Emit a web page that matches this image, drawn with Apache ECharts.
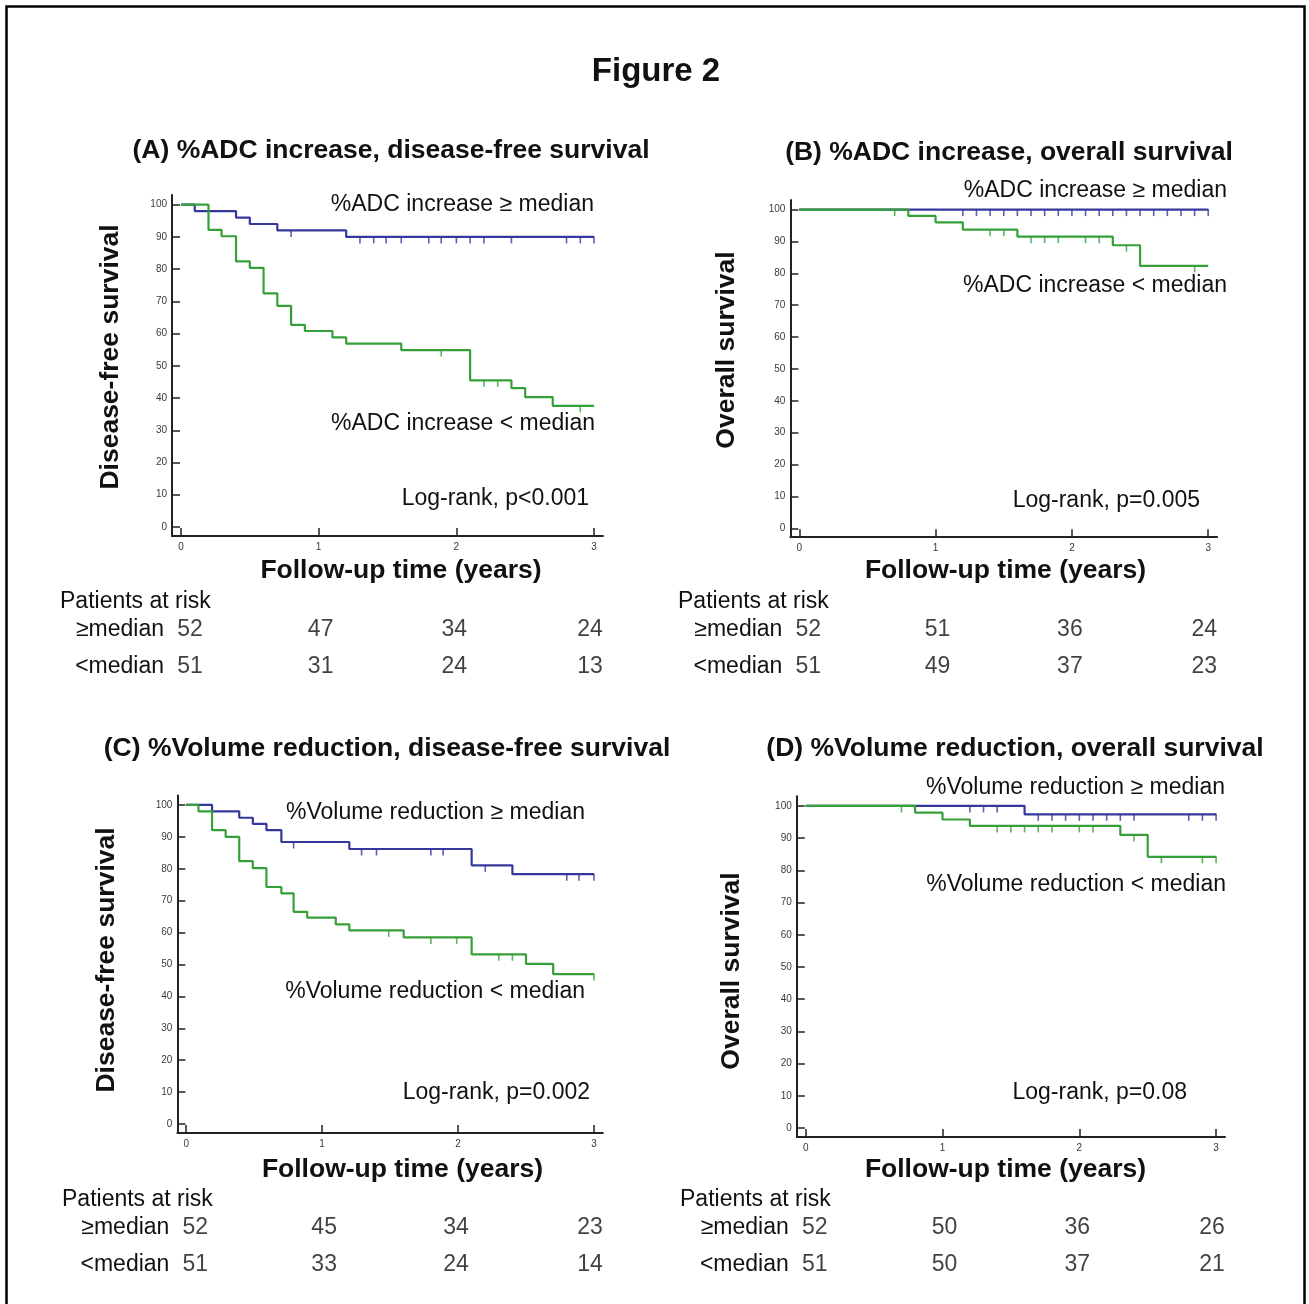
<!DOCTYPE html>
<html>
<head>
<meta charset="utf-8">
<script src="https://cdn.jsdelivr.net/npm/echarts@6/dist/echarts.min.js"></script>
<style>
html,body{margin:0;padding:0;background:#fff;}
#c{width:1309px;height:1304px;}
</style>
</head>
<body>
<div id="c"></div>
<script>
// ---------- DATA ----------
const yTicks = [0, 10, 20, 30, 40, 50, 60, 70, 80, 90, 100];
const xTicks = [0, 1, 2, 3];
const riskTimes = [0, 1, 2, 3];
const rowNames = ['≥median', '<median'];

// Panel A: %ADC increase, disease-free survival
const timesA_hi = [0, 0.10, 0.40, 0.50, 0.70, 1.20, 3.00];
const survA_hi  = [100, 98, 96, 94, 92, 90, 90];
const censorA_hi = [0.80, 1.30, 1.40, 1.49, 1.60, 1.80, 1.89, 2.00, 2.10, 2.20, 2.40, 2.80, 2.90, 3.00];
const timesA_lo = [0, 0.20, 0.295, 0.40, 0.50, 0.60, 0.70, 0.80, 0.90, 1.10, 1.20, 1.60, 2.10, 2.40, 2.50, 2.70, 3.00];
const survA_lo  = [100, 92.2, 90.2, 82.4, 80.4, 72.5, 68.6, 62.7, 60.8, 58.8, 56.9, 54.9, 45.5, 43.1, 40.3, 37.6, 37.6];
const censorA_lo = [1.89, 2.20, 2.30, 2.90];
const riskA_hi = [52, 47, 34, 24];
const riskA_lo = [51, 31, 24, 13];

// Panel B: %ADC increase, overall survival
const timesB_hi = [0, 3.00];
const survB_hi  = [100, 100];
const censorB_hi = [1.20, 1.30, 1.40, 1.50, 1.60, 1.70, 1.80, 1.90, 2.00, 2.10, 2.20, 2.30, 2.40, 2.50, 2.60, 2.70, 2.80, 2.90, 3.00];
const timesB_lo = [0, 0.80, 1.00, 1.20, 1.60, 2.30, 2.50, 3.00];
const survB_lo  = [100, 98.0, 96.0, 93.7, 91.5, 88.8, 82.3, 82.3];
const censorB_lo = [0.70, 1.40, 1.50, 1.70, 1.80, 1.90, 2.10, 2.20, 2.40, 2.90];
const riskB_hi = [52, 51, 36, 24];
const riskB_lo = [51, 49, 37, 23];

// Panel C: %Volume reduction, disease-free survival
const timesC_hi = [0, 0.19, 0.39, 0.49, 0.59, 0.70, 1.20, 2.10, 2.40, 3.00];
const survC_hi  = [100, 98, 96, 94.1, 92.1, 88.4, 86.2, 81.1, 78.3, 78.3];
const censorC_hi = [0.79, 1.29, 1.40, 1.80, 1.89, 2.20, 2.80, 2.89, 3.00];
const timesC_lo = [0, 0.09, 0.19, 0.29, 0.39, 0.49, 0.59, 0.70, 0.79, 0.89, 1.10, 1.20, 1.60, 2.10, 2.50, 2.70, 3.00];
const survC_lo  = [100, 98, 92.1, 90.0, 82.4, 80.2, 74.3, 72.3, 66.5, 64.7, 62.6, 60.7, 58.5, 53.2, 50.2, 47.0, 47.0];
const censorC_lo = [1.49, 1.80, 1.99, 2.30, 2.40, 3.00];
const riskC_hi = [52, 45, 34, 23];
const riskC_lo = [51, 33, 24, 14];

// Panel D: %Volume reduction, overall survival
const timesD_hi = [0, 1.60, 3.00];
const survD_hi  = [100, 97.4, 97.4];
const censorD_hi = [1.20, 1.30, 1.40, 1.70, 1.80, 1.90, 2.00, 2.10, 2.20, 2.30, 2.40, 2.80, 2.90, 3.00];
const timesD_lo = [0, 0.80, 1.00, 1.20, 2.30, 2.50, 3.00];
const survD_lo  = [100, 97.9, 95.8, 93.8, 91.0, 84.2, 84.2];
const censorD_lo = [0.70, 1.40, 1.50, 1.60, 1.70, 1.80, 2.00, 2.10, 2.40, 2.60, 2.90, 3.00];
const riskD_hi = [52, 50, 36, 26];
const riskD_lo = [51, 50, 37, 21];

// ---------- STYLE / LAYOUT ----------
const FONT = "'Liberation Sans', Arial, Helvetica, sans-serif";
const BLUE = '#34389c';
const GREEN = '#36a038';
const AXIS = '#222';
const X_MIN = -0.065, X_MAX = 3.065, Y_MIN = -2.8, Y_MAX = 103;
const COL_OFFSET = [9, 2, -2, -4];

const panels = [
  { grid: {left: 172, top: 195, width: 431, height: 341}, tableTop: 611.5,
    hi: [timesA_hi, survA_hi, censorA_hi], lo: [timesA_lo, survA_lo, censorA_lo], risk: [riskA_hi, riskA_lo] },
  { grid: {left: 790.4, top: 200, width: 426.7, height: 337.2}, tableTop: 611.5,
    hi: [timesB_hi, survB_hi, censorB_hi], lo: [timesB_lo, survB_lo, censorB_lo], risk: [riskB_hi, riskB_lo] },
  { grid: {left: 177.4, top: 795.4, width: 425.4, height: 337.6}, tableTop: 1209.5,
    hi: [timesC_hi, survC_hi, censorC_hi], lo: [timesC_lo, survC_lo, censorC_lo], risk: [riskC_hi, riskC_lo] },
  { grid: {left: 796.8, top: 796.3, width: 428.2, height: 340.7}, tableTop: 1209.5,
    hi: [timesD_hi, survD_hi, censorD_hi], lo: [timesD_lo, survD_lo, censorD_lo], risk: [riskD_hi, riskD_lo] }
];

function survAt(times, surv, t) {
  let v = surv[0];
  for (let i = 0; i < times.length; i++) { if (times[i] <= t + 1e-9) v = surv[i]; }
  return v;
}

const grids = [], xAxes = [], yAxes = [], series = [];
panels.forEach((p, i) => {
  grids.push(Object.assign({}, p.grid));
  xAxes.push({
    gridIndex: 2 * i, type: 'value', min: X_MIN, max: X_MAX,
    axisLine: {show: true, onZero: false, lineStyle: {color: AXIS, width: 2}},
    axisTick: {show: true, inside: true, length: 8, customValues: xTicks, lineStyle: {color: AXIS, width: 1.5}},
    axisLabel: {show: true, customValues: xTicks, fontSize: 10, color: '#3a3a3a', fontFamily: FONT, margin: 6},
    splitLine: {show: false}
  });
  yAxes.push({
    gridIndex: 2 * i, type: 'value', min: Y_MIN, max: Y_MAX,
    axisLine: {show: true, onZero: false, lineStyle: {color: AXIS, width: 2}},
    axisTick: {show: true, inside: true, length: 8, customValues: yTicks, lineStyle: {color: AXIS, width: 1.5}},
    axisLabel: {show: true, customValues: yTicks, fontSize: 10, color: '#3a3a3a', fontFamily: FONT, margin: 5},
    splitLine: {show: false}
  });
  grids.push({left: p.grid.left, width: p.grid.width, top: p.tableTop, height: 74});
  xAxes.push({gridIndex: 2 * i + 1, type: 'value', min: X_MIN, max: X_MAX, show: false});
  yAxes.push({
    gridIndex: 2 * i + 1, type: 'category', data: rowNames, inverse: true,
    axisLine: {show: false}, axisTick: {show: false}, splitLine: {show: false},
    axisLabel: {fontSize: 23, color: '#111', fontFamily: FONT, margin: 8}
  });

  [[p.hi, BLUE], [p.lo, GREEN]].forEach(([g, color]) => {
    const [times, surv, cens] = g;
    series.push({
      type: 'line', step: 'end', xAxisIndex: 2 * i, yAxisIndex: 2 * i,
      data: times.map((t, k) => [t, surv[k]]),
      symbol: 'none', lineStyle: {color: color, width: 2.2}, itemStyle: {color: color},
      silent: true, clip: false
    });
    series.push({
      type: 'scatter', xAxisIndex: 2 * i, yAxisIndex: 2 * i,
      data: cens.map(t => [t, survAt(times, surv, t)]),
      symbol: 'rect', symbolSize: [1.6, 7], symbolOffset: [0, 3],
      itemStyle: {color: color}, silent: true
    });
  });

  p.risk.forEach((vals, r) => {
    series.push({
      type: 'scatter', xAxisIndex: 2 * i + 1, yAxisIndex: 2 * i + 1,
      data: vals.map((v, k) => ({
        value: [riskTimes[k], rowNames[r], v],
        label: {offset: [COL_OFFSET[k], 0]}
      })),
      symbolSize: 1, itemStyle: {color: 'rgba(0,0,0,0)'}, silent: true,
      label: {show: true, position: 'inside', formatter: d => d.value[2],
              fontSize: 23, color: '#111', fontFamily: FONT}
    });
  });
});

function txt(text, x, y, size, opts) {
  opts = opts || {};
  return {
    type: 'text', x: x, y: y, rotation: opts.rot || 0, silent: true,
    style: {
      text: text, fill: '#111',
      font: (opts.bold ? 'bold ' : '') + size + 'px ' + FONT,
      align: opts.align || 'center', verticalAlign: 'middle'
    }
  };
}

const graphics = [
  {type: 'rect', shape: {x: 6.5, y: 6.5, width: 1298, height: 1400}, style: {fill: 'none', stroke: '#000', lineWidth: 2.5}, silent: true},
  txt('Figure 2', 656, 72, 33, {bold: true}),
  txt('(A) %ADC increase, disease-free survival', 391, 151, 26.5, {bold: true}),
  txt('(B) %ADC increase, overall survival', 1009, 153, 26.5, {bold: true}),
  txt('(C) %Volume reduction, disease-free survival', 387, 749, 26.5, {bold: true}),
  txt('(D) %Volume reduction, overall survival', 1015, 749, 26.5, {bold: true}),
  txt('Disease-free survival', 111, 357, 26.5, {bold: true, rot: Math.PI / 2}),
  txt('Overall survival', 727, 350, 26.5, {bold: true, rot: Math.PI / 2}),
  txt('Disease-free survival', 107, 960, 26.5, {bold: true, rot: Math.PI / 2}),
  txt('Overall survival', 732, 971, 26.5, {bold: true, rot: Math.PI / 2}),
  txt('Follow-up time (years)', 401, 571, 26.5, {bold: true}),
  txt('Follow-up time (years)', 1005.5, 571, 26.5, {bold: true}),
  txt('Follow-up time (years)', 402.5, 1170, 26.5, {bold: true}),
  txt('Follow-up time (years)', 1005.5, 1170, 26.5, {bold: true}),
  txt('%ADC increase ≥ median', 594, 205, 23, {align: 'right'}),
  txt('%ADC increase < median', 595, 424, 23, {align: 'right'}),
  txt('Log-rank, p<0.001', 589, 499, 23, {align: 'right'}),
  txt('%ADC increase ≥ median', 1227, 191, 23, {align: 'right'}),
  txt('%ADC increase < median', 1227, 286, 23, {align: 'right'}),
  txt('Log-rank, p=0.005', 1200, 501, 23, {align: 'right'}),
  txt('%Volume reduction ≥ median', 585, 813, 23, {align: 'right'}),
  txt('%Volume reduction < median', 585, 992, 23, {align: 'right'}),
  txt('Log-rank, p=0.002', 590, 1093, 23, {align: 'right'}),
  txt('%Volume reduction ≥ median', 1225, 788, 23, {align: 'right'}),
  txt('%Volume reduction < median', 1226, 885, 23, {align: 'right'}),
  txt('Log-rank, p=0.08', 1187, 1093, 23, {align: 'right'}),
  txt('Patients at risk', 60, 602, 23, {align: 'left'}),
  txt('Patients at risk', 678, 602, 23, {align: 'left'}),
  txt('Patients at risk', 62, 1200, 23, {align: 'left'}),
  txt('Patients at risk', 680, 1200, 23, {align: 'left'})
];

const chart = echarts.init(document.getElementById('c'), null, {renderer: 'canvas'});
chart.setOption({
  animation: false,
  backgroundColor: '#fff',
  grid: grids,
  xAxis: xAxes,
  yAxis: yAxes,
  series: series,
  graphic: graphics
});
</script>
</body>
</html>
